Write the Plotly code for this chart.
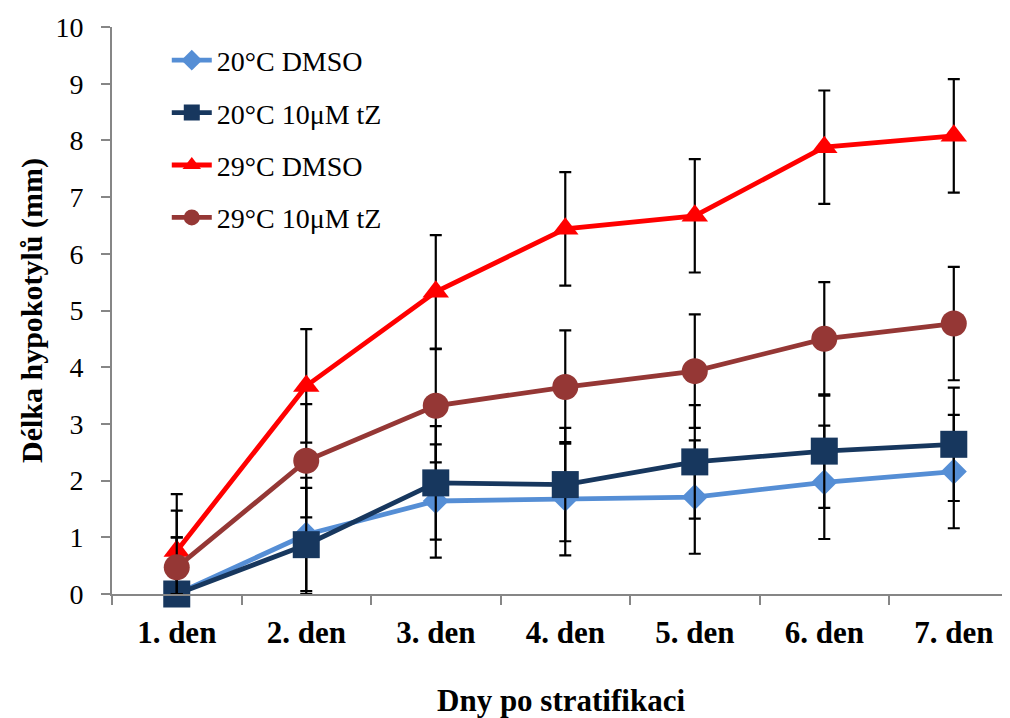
import plotly.graph_objects as go

days = ["1. den", "2. den", "3. den", "4. den", "5. den", "6. den", "7. den"]

names = ["20°C DMSO", "20°C 10μM tZ", "29°C DMSO", "29°C 10μM tZ"]

dmso_20 = [0.0, 1.05, 1.64, 1.68, 1.71, 1.97, 2.16]
tz_20 = [0.0, 0.87, 1.96, 1.93, 2.33, 2.52, 2.64]
dmso_29 = [0.76, 3.67, 5.33, 6.44, 6.67, 7.88, 8.08]
tz_29 = [0.47, 2.35, 3.32, 3.65, 3.93, 4.50, 4.77]

err_dmso_20 = [1.0, 1.0, 1.0, 1.0, 1.0, 1.0, 1.0]
err_tz_20 = [1.0, 1.0, 1.0, 1.0, 1.0, 1.0, 1.0]
err_dmso_29 = [1.0, 1.0, 1.0, 1.0, 1.0, 1.0, 1.0]
err_tz_29 = [1.0, 1.0, 1.0, 1.0, 1.0, 1.0, 1.0]

series = [
    (names[0], dmso_20, err_dmso_20, "#558ED5", "diamond", 20),
    (names[1], tz_20, err_tz_20, "#17375E", "square", 27),
    (names[2], dmso_29, err_dmso_29, "#FF0000", "triangle-up", 23),
    (names[3], tz_29, err_tz_29, "#953735", "circle", 26),
]

FONT = "Liberation Serif, Times New Roman, serif"

fig = go.Figure()
for i, (nm, vals, err, col, sym, sz) in enumerate(series):
    minus = [min(e, v) for e, v in zip(err, vals)]
    fig.add_trace(go.Scatter(
        x=days, y=vals, name=nm, mode="lines+markers",
        line=dict(color=col, width=4.8),
        marker=dict(color=col, symbol=sym, size=sz, line=dict(width=0)),
        error_y=dict(type="data", symmetric=False, array=err, arrayminus=minus,
                     color="black", thickness=2.2, width=6),
        cliponaxis=False,
        legendgroup=f"g{i}",
    ))

# page body has an 8px margin: figure is sized/offset to compensate
fig.update_layout(
    width=1002, height=710,
    margin=dict(l=104, r=0, t=19, b=124, autoexpand=False),
    paper_bgcolor="white", plot_bgcolor="white",
    font=dict(family=FONT, color="black"),
    showlegend=True,
    legend=dict(
        x=0.061, y=0.985, xanchor="left", yanchor="top",
        font=dict(family=FONT, size=28, color="black"),
        bgcolor="rgba(0,0,0,0)", tracegroupgap=13,
        itemwidth=40,
    ),
    xaxis=dict(
        type="category", range=[-0.5, 6.434],
        showline=True, linecolor="#868686", linewidth=2,
        ticks="outside", tickson="boundaries", ticklen=9, tickwidth=2, tickcolor="#868686",
        tickfont=dict(family=FONT, size=31, color="black", weight="bold"),
        ticklabelstandoff=10,
        showgrid=False, zeroline=False,
        title=dict(text="<b>Dny po stratifikaci</b>", font=dict(family=FONT, size=31, color="black"), standoff=40),
    ),
    yaxis=dict(
        range=[0, 10], dtick=1, tick0=0,
        showline=True, linecolor="#868686", linewidth=2,
        ticks="outside", ticklen=9, tickwidth=2, tickcolor="#868686",
        tickfont=dict(family=FONT, size=28, color="black"),
        ticklabelstandoff=12,
        showgrid=False, zeroline=False,
        title=dict(text="<b>Délka hypokotylů (mm)</b>", font=dict(family=FONT, size=30, color="black"), standoff=4),
    ),
)

fig.write_html("out.html")
